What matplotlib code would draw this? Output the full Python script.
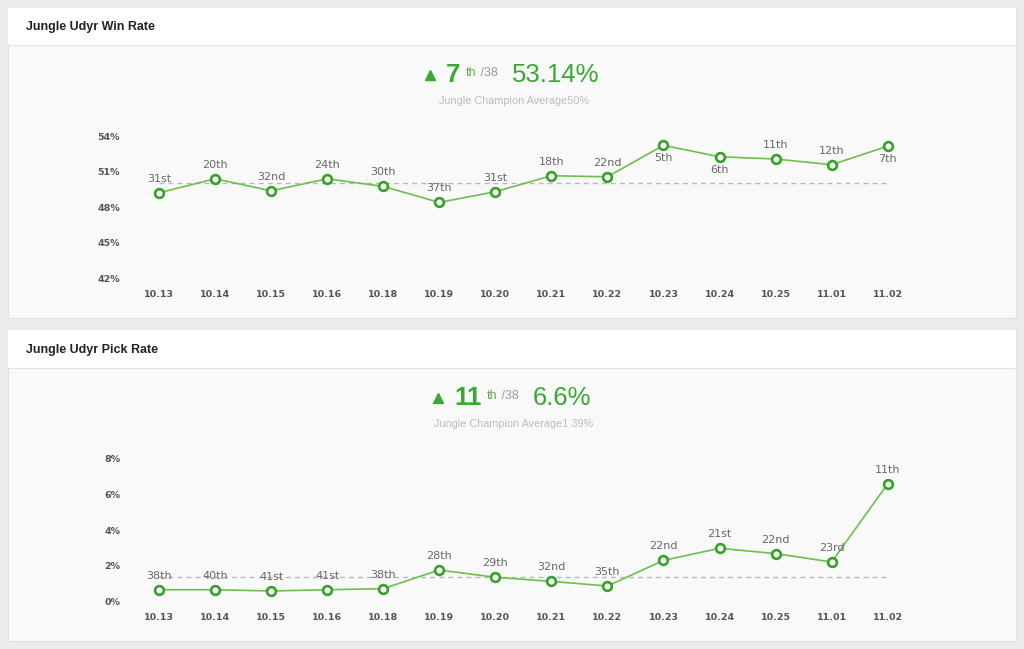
import matplotlib
matplotlib.use("Agg")
import matplotlib.pyplot as plt
from matplotlib.patches import Rectangle
from matplotlib.lines import Line2D

# ---------------- data ----------------
patches = ["10.13", "10.14", "10.15", "10.16", "10.18", "10.19", "10.20",
           "10.21", "10.22", "10.23", "10.24", "10.25", "11.01", "11.02"]

win_rate = [49.21, 50.39, 49.38, 50.39, 49.75, 48.40, 49.30,
            50.65, 50.56, 53.21, 52.25, 52.06, 51.58, 53.14]
win_rank = ["31st", "20th", "32nd", "24th", "30th", "37th", "31st",
            "18th", "22nd", "5th", "6th", "11th", "12th", "7th"]
win_label_below = [False, False, False, False, False, False, False,
                   False, False, True, True, False, False, True]
win_avg = 50.0
win_ticks = [42, 45, 48, 51, 54]

pick_rate = [0.65, 0.65, 0.58, 0.65, 0.71, 1.76, 1.35,
             1.12, 0.86, 2.30, 2.98, 2.68, 2.21, 6.60]
pick_rank = ["38th", "40th", "41st", "41st", "38th", "28th", "29th",
             "32nd", "35th", "22nd", "21st", "22nd", "23rd", "11th"]
pick_avg = 1.39
pick_ticks = [0, 2, 4, 6, 8]

panels = [
    dict(title="Jungle Udyr Win Rate", rank="7", total="/38", value="53.14%",
         sub="Jungle Champion Average50%"),
    dict(title="Jungle Udyr Pick Rate", rank="11", total="/38", value="6.6%",
         sub="Jungle Champion Average1.39%"),
]

# ---------------- styling ----------------
W, H = 1024, 649
BG = "#ebebeb"
BODY = "#f9f9f9"
LINE = "#6cbf4f"
MARK = "#35a02a"
HEAD_GREEN = "#3aa832"
TICK = "#555555"
RANKC = "#686868"

fig = plt.figure(figsize=(W / 100, H / 100), dpi=100, facecolor=BG)


def fx(x):
    return x / W


def fy(y):
    return 1 - y / H


def rect(x0, y0, x1, y1, **kw):
    fig.patches.append(Rectangle((fx(x0), fy(y1)), fx(x1) - fx(x0), fy(y0) - fy(y1),
                                 transform=fig.transFigure, figure=fig, zorder=-10, **kw))


# panel geometry (pixels): top, header line, bottom
panel_geo = [(8, 45, 318), (330, 368, 641)]
for (top, hl, bot), p in zip(panel_geo, panels):
    rect(8, top, 1016, bot, facecolor=BODY, edgecolor="#e2e2e2", linewidth=0.8)
    rect(8, top, 1016, hl, facecolor="white", edgecolor="none")
    fig.add_artist(Line2D([fx(8), fx(1016)], [fy(hl), fy(hl)], transform=fig.transFigure,
                          color="#e3e3e3", linewidth=0.8, zorder=-5))
    fig.text(fx(26), fy((top + hl) / 2 + 0.5), p["title"], family="Liberation Sans",
             fontweight="bold", fontsize=9, color="#222222", va="center", ha="left")

renderer = fig.canvas.get_renderer()


def headline(p, base_y, sub_y):
    t_rank = fig.text(0, fy(base_y), p["rank"], family="Liberation Sans", fontweight="bold",
                      fontsize=18.5, color=HEAD_GREEN, va="baseline", ha="left")
    t_th = fig.text(0, fy(base_y - 6), "th", family="Liberation Sans", fontsize=9,
                    color="#5cae4c", va="baseline", ha="left")
    t_tot = fig.text(0, fy(base_y - 6), " " + p["total"], family="Liberation Sans", fontsize=9,
                     color="#9a9a9a", va="baseline", ha="left")
    t_val = fig.text(0, fy(base_y), p["value"], family="Liberation Sans", fontsize=18.5,
                     color=HEAD_GREEN, va="baseline", ha="left")
    widths = [t.get_window_extent(renderer).width for t in (t_rank, t_th, t_tot, t_val)]
    tri_w, gap1, gap2, gap3 = 11, 10, 6, 14
    total = tri_w + gap1 + widths[0] + gap2 + widths[1] + widths[2] + gap3 + widths[3]
    x = 512 - total / 2
    fig.add_artist(Line2D([fx(x + tri_w / 2)], [fy(base_y - 7.5)], transform=fig.transFigure,
                          marker="^", markersize=7.5, color=HEAD_GREEN, linestyle="none"))
    x += tri_w + gap1
    t_rank.set_x(fx(x)); x += widths[0] + gap2
    t_th.set_x(fx(x)); x += widths[1]
    t_tot.set_x(fx(x)); x += widths[2] + gap3
    t_val.set_x(fx(x))
    fig.text(fx(514), fy(sub_y), p["sub"], family="Liberation Sans", fontsize=7.8,
             color="#bcbcbc", va="center", ha="center")


headline(panels[0], 82, 101)
headline(panels[1], 405, 424)

# ---------------- charts ----------------
x0_px, x1_px = 159, 887.7
x = list(range(len(patches)))


def make_chart(top_px, bot_px, ylim, ticks, values, ranks, below, avg):
    ax = fig.add_axes([fx(x0_px), fy(bot_px), fx(x1_px) - fx(x0_px), fy(top_px) - fy(bot_px)])
    ax.set_facecolor("none")
    ax.set_zorder(5)
    for s in ax.spines.values():
        s.set_visible(False)
    ax.set_xlim(0, len(patches) - 1)
    ax.set_ylim(*ylim)
    ax.set_xticks(x)
    ax.set_xticklabels(patches)
    ax.set_yticks(ticks)
    ax.set_yticklabels([f"{t}%" for t in ticks])
    ax.tick_params(axis="x", length=0, pad=8.2, labelsize=6.8, labelcolor=TICK)
    ax.tick_params(axis="y", length=0, pad=28, labelsize=6.8, labelcolor=TICK)
    for lab in ax.get_xticklabels() + ax.get_yticklabels():
        lab.set_fontweight("bold")
    ax.plot([0, len(patches) - 1], [avg, avg], linestyle=(0, (3.5, 3)), color="#b8b8b8",
            linewidth=1.0, zorder=1, clip_on=False)
    ax.plot(x, values, color=LINE, linewidth=1.2, zorder=2, clip_on=False)
    ax.plot(x, values, linestyle="none", marker="o", markersize=6.3, markerfacecolor=BODY,
            markeredgecolor=MARK, markeredgewidth=1.9, zorder=3, clip_on=False)
    for xi, v, r, b in zip(x, values, ranks, below):
        ax.annotate(r, (xi, v), xytext=(0, -13 if b else 14), textcoords="offset pixels",
                    ha="center", va="center", fontsize=8, color=RANKC, zorder=4,
                    annotation_clip=False)
    return ax


make_chart(136, 278.3, (42, 54), win_ticks, win_rate, win_rank, win_label_below, win_avg)
make_chart(459, 601.3, (0, 8), pick_ticks, pick_rate, pick_rank, [False] * len(patches), pick_avg)

fig.savefig("out.png", dpi=100, facecolor=BG)
